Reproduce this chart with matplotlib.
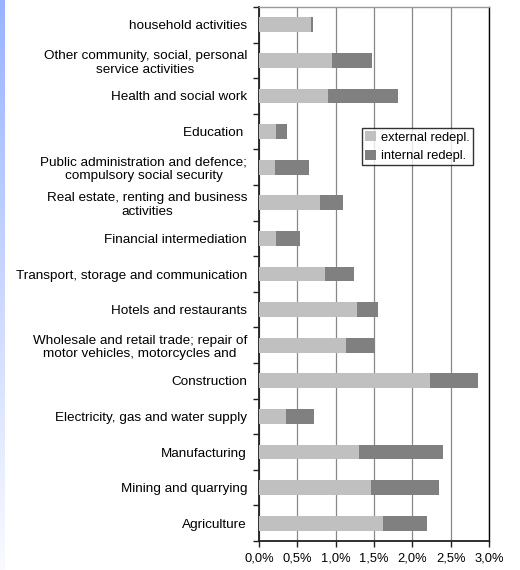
import numpy as np
import matplotlib
matplotlib.use('Agg')
import matplotlib.pyplot as plt
from matplotlib.ticker import FuncFormatter
from matplotlib.colors import LinearSegmentedColormap

plt.rcParams['font.family'] = ['Liberation Sans', 'DejaVu Sans']

# categories from bottom to top
sectors = ['Agriculture', 'Mining and quarrying', 'Manufacturing',
           'Electricity, gas and water supply', 'Construction',
           'Wholesale and retail trade; repair of\nmotor vehicles, motorcycles and',
           'Hotels and restaurants', 'Transport, storage and communication',
           'Financial intermediation',
           'Real estate, renting and business\nactivities',
           'Public administration and defence;\ncompulsory social security',
           'Education ', 'Health and social work',
           'Other community, social, personal\nservice activities',
           'household activities']

external = [1.62, 1.46, 1.30, 0.35, 2.23, 1.13, 1.28, 0.86, 0.22, 0.80,
            0.21, 0.22, 0.90, 0.95, 0.68]
internal = [0.57, 0.89, 1.10, 0.37, 0.63, 0.38, 0.27, 0.38, 0.32, 0.29,
            0.44, 0.15, 0.91, 0.52, 0.03]

xticks = [0.0, 0.5, 1.0, 1.5, 2.0, 2.5, 3.0]

fig = plt.figure(figsize=(5.2, 5.7), dpi=100)

# blue strip on left edge
strip = fig.add_axes([0, 0, 5/520, 1])
grad = np.linspace(0, 1, 256).reshape(-1, 1)
cm = LinearSegmentedColormap.from_list('s', ['#fafbff', '#99b3ff'])
strip.imshow(grad, aspect='auto', cmap=cm, origin='lower', extent=[0, 1, 0, 1])
strip.axis('off')

ax = fig.add_axes([259/520, 29/570, 230/520, 534/570])
y = np.arange(len(sectors))
ax.barh(y, external, height=0.42, color='#c0c0c0', label='external redepl.', zorder=3)
ax.barh(y, internal, left=external, height=0.42, color='#808080', label='internal redepl.', zorder=3)

ax.set_xlim(0, 3.0)
ax.set_ylim(-0.5, len(sectors) - 0.5)
ax.set_xticks(xticks)
ax.xaxis.set_major_formatter(FuncFormatter(lambda v, p: ('%.1f%%' % v).replace('.', ',')))
ax.set_yticks(y)
ax.set_yticklabels(sectors, ha='right', multialignment='center', fontsize=9.7)
ax.tick_params(axis='y', which='major', length=0, pad=8.6)
ax.set_yticks(np.arange(-0.5, len(sectors), 1), minor=True)
ax.tick_params(axis='y', which='minor', length=4, width=1, color='#202020', direction='out')
ax.tick_params(axis='x', labelsize=9.3, length=4, width=1, color='#202020', pad=4)

ax.grid(axis='x', color='#888888', linewidth=0.9, zorder=0)
ax.spines['left'].set_color('#202020')
ax.spines['left'].set_linewidth(1.3)
ax.spines['bottom'].set_color('#202020')
ax.spines['bottom'].set_linewidth(1.3)
ax.spines['right'].set_color('#000000')
ax.spines['right'].set_linewidth(1.0)
ax.spines['top'].set_color('#999999')
ax.spines['top'].set_linewidth(1.0)

leg = ax.legend(loc='upper left', bbox_to_anchor=(0.448, 0.704, 0.482, 0.069), mode='expand',
                fontsize=9.3, frameon=True, fancybox=False, handlelength=0.8, handleheight=0.8,
                handletextpad=0.4, borderpad=0.25, labelspacing=0.45, borderaxespad=0)
leg.get_frame().set_edgecolor('black')
leg.get_frame().set_linewidth(1.0)

fig.savefig('out.png', dpi=100)
